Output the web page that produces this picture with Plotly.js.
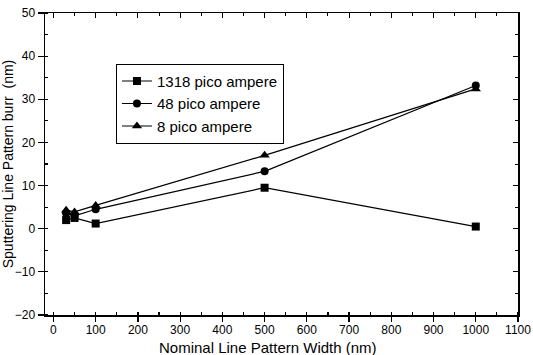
<!DOCTYPE html>
<html>
<head>
<meta charset="utf-8">
<script src="https://cdn.plot.ly/plotly-3.0.1.min.js"></script>
<style>
html,body{margin:0;padding:0;background:#fff;}
#chart{width:533px;height:355px;}
</style>
</head>
<body>
<div id="chart"></div>
<script>
// Nominal line pattern widths (nm)
const widths = [30, 50, 100, 500, 1000];
// Burr height (nm) for each beam current
const burr1318 = [2.0, 2.5, 1.2, 9.5, 0.5];
const burr48 = [3.6, 3.0, 4.5, 13.3, 33.2];
const burr8 = [4.3, 3.9, 5.4, 17.0, 32.4];
const seriesNames = ['1318 pico ampere', '48 pico ampere', '8 pico ampere'];
const seriesSymbols = ['square', 'circle', 'triangle-up'];

const seriesValues = [burr1318, burr48, burr8];
const traces = seriesValues.map((vals, i) => ({
  x: widths,
  y: vals,
  name: seriesNames[i],
  type: 'scatter',
  mode: 'lines+markers',
  line: {color: '#000', width: 1.2},
  marker: {symbol: seriesSymbols[i], size: i === 2 ? 9 : 8, color: '#000'}
}));

// empty trace that brings up the mirrored top/right axes with inward ticks
traces.push({x: [], y: [], xaxis: 'x2', yaxis: 'y2', showlegend: false, type: 'scatter', mode: 'markers', hoverinfo: 'skip'});

const fam = 'Arial, "Liberation Sans", sans-serif';
const font = {family: fam, color: '#000'};

const xRange = [-20, 1100];
const yRange = [-20, 50];

const layout = {
  width: 533, height: 355,
  margin: {l: 45, r: 15, t: 13, b: 40},
  paper_bgcolor: '#fff', plot_bgcolor: '#fff',
  font: font,
  showlegend: true,
  legend: {
    x: 0.150, y: 0.832, xanchor: 'left', yanchor: 'top',
    bordercolor: '#000', borderwidth: 1, bgcolor: '#fff',
    font: {family: fam, size: 15, color: '#000'},
    itemsizing: 'trace', tracegroupgap: 0
  },
  xaxis: {
    range: xRange, dtick: 100, tick0: 0,
    ticks: 'outside', ticklen: 5, tickwidth: 1.2, tickcolor: '#000',
    ticklabelstandoff: -2,
    minor: {dtick: 50, ticks: 'inside', ticklen: 3, tickcolor: '#000'},
    showline: true, linecolor: '#000', linewidth: 1.5, mirror: true,
    showgrid: false, zeroline: false,
    tickfont: {family: fam, size: 12, color: '#000'}
  },
  yaxis: {
    range: yRange, dtick: 10, tick0: 0,
    ticks: 'outside', ticklen: 6, tickwidth: 1.2, tickcolor: '#000',
    minor: {dtick: 5, ticks: 'inside', ticklen: 3, tickcolor: '#000'},
    showline: true, linecolor: '#000', linewidth: 1.5, mirror: true,
    showgrid: false, zeroline: false,
    tickfont: {family: fam, size: 12, color: '#000'},
    title: {text: 'Sputtering Line Pattern burr  (nm)', font: {family: fam, size: 14, color: '#000'}, standoff: 0}
  },
  xaxis2: {
    overlaying: 'x', side: 'top', range: xRange, dtick: 100, tick0: 0,
    ticks: 'inside', ticklen: 5, tickcolor: '#000',
    minor: {dtick: 50, ticks: 'inside', ticklen: 3, tickcolor: '#000'},
    showticklabels: false, showgrid: false, zeroline: false, showline: false
  },
  yaxis2: {
    overlaying: 'y', side: 'right', range: yRange, dtick: 10, tick0: 0,
    ticks: 'inside', ticklen: 5, tickcolor: '#000',
    minor: {dtick: 5, ticks: 'inside', ticklen: 3, tickcolor: '#000'},
    showticklabels: false, showgrid: false, zeroline: false, showline: false
  },
  annotations: [{
    text: 'Nominal Line Pattern Width (nm)',
    xref: 'paper', yref: 'paper', x: 0.471, y: -0.106,
    xanchor: 'center', yanchor: 'middle', showarrow: false,
    font: {family: fam, size: 15, color: '#000'}
  }]
};

Plotly.newPlot('chart', traces, layout, {displayModeBar: false, staticPlot: true});
</script>
</body>
</html>
